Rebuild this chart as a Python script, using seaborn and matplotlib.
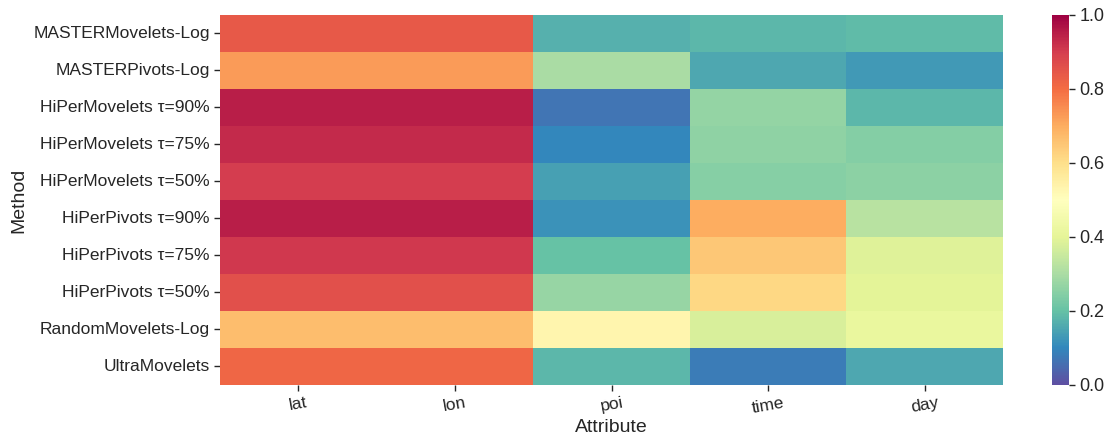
import numpy as np
import pandas as pd
import matplotlib
matplotlib.use("Agg")
import matplotlib.pyplot as plt
import seaborn as sns

methods = [
    "MASTERMovelets-Log",
    "MASTERPivots-Log",
    "HiPerMovelets τ=90%",
    "HiPerMovelets τ=75%",
    "HiPerMovelets τ=50%",
    "HiPerPivots τ=90%",
    "HiPerPivots τ=75%",
    "HiPerPivots τ=50%",
    "RandomMovelets-Log",
    "UltraMovelets",
]
attributes = ["lat", "lon", "poi", "time", "day"]

lat = [0.84, 0.73, 0.95, 0.93, 0.90, 0.95, 0.91, 0.86, 0.668, 0.813]
lon = [0.84, 0.73, 0.95, 0.93, 0.90, 0.95, 0.91, 0.86, 0.668, 0.813]
poi = [0.17, 0.30, 0.068, 0.10, 0.142, 0.121, 0.20, 0.271, 0.532, 0.18]
time_ = [0.18, 0.156, 0.267, 0.259, 0.247, 0.70, 0.652, 0.616, 0.378, 0.082]
day = [0.19, 0.13, 0.18, 0.245, 0.257, 0.324, 0.39, 0.395, 0.416, 0.156]

df = pd.DataFrame({"lat": lat, "lon": lon, "poi": poi, "time": time_, "day": day},
                  index=methods)
df.index.name = "Method"
df.columns.name = "Attribute"

sns.set_theme(style="ticks", context="notebook")
plt.rcParams["font.family"] = ["Liberation Sans", "DejaVu Sans"]

fig = plt.figure(figsize=(11.12, 4.41), dpi=100)
ax = fig.add_axes([0.198, 0.127, 0.704, 0.839])
cax = fig.add_axes([0.946, 0.127, 0.0155, 0.839])

sns.heatmap(df, ax=ax, cbar_ax=cax, cmap="Spectral_r", vmin=0, vmax=1)

ax.set_xlabel("Attribute", fontsize=14, labelpad=2)
ax.set_ylabel("Method", fontsize=14)
ax.tick_params(axis="both", labelsize=12.5, length=4, width=1)
plt.setp(ax.get_xticklabels(), rotation=10)
plt.setp(ax.get_yticklabels(), rotation=0)
cax.tick_params(labelsize=13, length=4, width=1)

fig.savefig("out.png", dpi=100)
